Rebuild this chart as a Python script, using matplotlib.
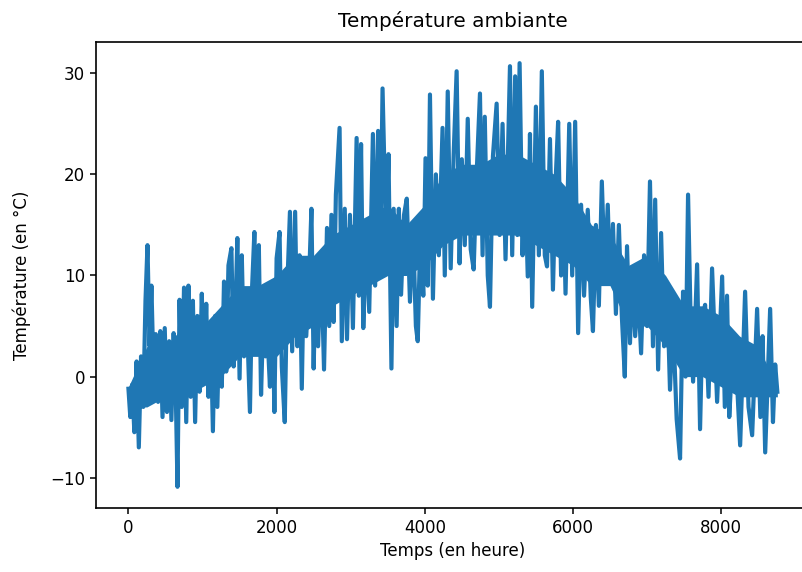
import matplotlib
matplotlib.use("Agg")
import matplotlib.pyplot as plt

# hour index and temperature (degC), peaks and troughs
hours = [0, 25, 50, 80, 110, 140, 170, 200, 230, 257, 285, 310, 340, 370, 400,
         430, 460, 490, 520, 550, 580, 610, 640, 662, 690, 720, 750, 780, 810,
         840, 870, 900, 930, 960, 990, 1020, 1050, 1080, 1110, 1140, 1170, 1200,
         1230, 1260, 1290, 1320, 1350, 1390, 1420, 1450, 1470, 1500, 1530, 1560,
         1590, 1640, 1670, 1700, 1730, 1760, 1790, 1820, 1850, 1880, 1910, 1940,
         1970, 2000, 2040, 2070, 2110, 2140, 2180, 2210, 2250, 2280, 2310, 2340,
         2370, 2400, 2440, 2470, 2500, 2530, 2560, 2600, 2640, 2680, 2710, 2740,
         2770, 2800, 2850, 2880, 2920, 2950, 2990, 3030, 3080, 3110, 3140, 3170,
         3210, 3250, 3300, 3330, 3370, 3400, 3430, 3480, 3510, 3550, 3580, 3620,
         3650, 3680, 3720, 3757, 3800, 3840, 3880, 3905, 3940, 3980, 4010, 4040,
         4070, 4110, 4150, 4190, 4240, 4270, 4310, 4350, 4390, 4430, 4470, 4500,
         4540, 4580, 4620, 4660, 4700, 4745, 4780, 4810, 4850, 4880, 4920, 4970,
         5010, 5050, 5090, 5150, 5180, 5220, 5250, 5280, 5320, 5350, 5390, 5420,
         5450, 5500, 5540, 5580, 5620, 5650, 5690, 5730, 5770, 5800, 5840, 5870,
         5900, 5950, 5990, 6030, 6070, 6110, 6150, 6200, 6240, 6270, 6310, 6350,
         6390, 6430, 6470, 6500, 6540, 6580, 6620, 6660, 6700, 6730, 6770, 6800,
         6840, 6880, 6920, 6960, 7000, 7040, 7080, 7110, 7150, 7190, 7230, 7270,
         7310, 7350, 7400, 7446, 7486, 7520, 7554, 7590, 7622, 7676, 7716, 7750,
         7784, 7830, 7878, 7946, 8014, 8050, 8080, 8110, 8149, 8189, 8257, 8324,
         8370, 8419, 8486, 8530, 8560, 8595, 8662, 8700, 8730, 8759]

temp = [-1.2, -4, -0.8, -5.5, 1.5, -7, 2, -3, 7.5, 13, 3, 9, 0, 4.2, -2.5,
        4.5, -4, 4.8, -3.5, 3.5, -4.3, 4.3, -2, -10.9, 7.6, -3, 8.8, -4.5, 9.0,
        -2, 7.5, -4.5, 6, -1.5, 8.2, 0, 7.2, -2, 5, -5.4, 6, -3,
        5.5, -1, 9.4, 0.5, 11, 12.7, 1, 8, 13.7, -0.2, 12, 2,
        8, -3.5, 9, 14.3, 3, 13, -1.8, 6, 2, 3.7, -1, 9,
        -3.5, 11.7, 14.3, 1, -4.5, 8, 16.3, 2.5, 16.3, 3, 12, -1.2,
        11.4, 4, 10, 16.6, 0.8, 11, 3, 12, 0.7, 14.7, 5, 16,
        5.4, 18, 24.6, 3.5, 16.6, 3.7, 16, 4.8, 23.6, 8, 23, 4.8,
        14, 6.4, 24, 9, 24.3, 12, 28.5, 12.7, 22, 0.8, 16.6, 5,
        16.6, 8.1, 16, 17.6, 7.4, 15, 5, 3.5, 14, 8, 21.6, 9,
        27.9, 7.7, 20, 12, 24.6, 10, 28.2, 10.7, 22, 30.2, 11.2, 21.5,
        13, 25.5, 12.6, 10.6, 20, 28, 12, 25.7, 10, 6.9, 21.8, 27,
        14, 25, 11.6, 30.7, 12, 29.7, 14, 31, 12, 20.8, 9.9, 24,
        6.9, 26.7, 12, 30.2, 12, 10.9, 23.5, 8.6, 20, 25.2, 10, 18,
        8.2, 25, 10, 25.2, 4.3, 17, 8, 16.5, 7.9, 4.5, 15, 7,
        19.3, 10, 17, 9.2, 15.1, 6.2, 15, 6, 0, 12.9, 3.3, 10.2,
        4, 8.6, 2.3, 12, 5, 19.3, 3, 17.5, 0.7, 14.2, 3, 9,
        -1.3, 5.7, -4.2, -8.1, 8.4, 0, 18, 5, -0.5, 11.1, -5.2, 6,
        7.1, -2, 10.7, -2.5, 9.9, -3, 8, -4, 1.5, 3.2, -6.8, 8.4,
        -3, -5.8, 6.7, -4, 4, -7.5, 6.7, -4.5, 1.2, -1.5]

# solid core of the band (where daily swings overlap), read every 250 h
core_hours = [0, 250, 500, 750, 1000, 1250, 1500, 1750, 2000, 2250, 2500,
              2750, 3000, 3250, 3500, 3750, 4000, 4250, 4500, 4750, 5000,
              5250, 5500, 5750, 6000, 6250, 6500, 6750, 7000, 7250, 7500,
              7750, 8000, 8250, 8500, 8759]
core_lo = [-3, -3, -2, -2, -1, 0, 2, 2, 2, 4, 5, 7, 8, 9, 10, 10, 11, 13, 14,
           14, 14, 14, 13, 12, 11, 9, 9, 5, 5, 3, 0, 0, -1, -2, -2, -2]
core_hi = [-1, 3, 3, 5, 5, 7, 9, 9, 10, 12, 12, 14, 15, 16, 17, 15, 17, 20,
           21, 21, 22, 22, 21, 20, 18, 15, 14, 11, 12, 10, 7, 7, 6, 4, 3, -1]

blue = '#1f77b4'
fig = plt.figure(figsize=(8.02, 5.72), dpi=100)
ax = fig.add_axes([0.1197, 0.1119, 0.890, 0.8147])
ax.fill_between(core_hours, core_lo, core_hi, color=blue, linewidth=0)
ax.plot(hours, temp, color=blue, linewidth=3.0)

ax.set_title("Température ambiante", fontsize=14.4, pad=11)
ax.set_xlabel("Temps (en heure)", fontsize=12)
ax.set_ylabel("Température (en °C)", fontsize=12, labelpad=14)
ax.set_xticks([0, 2000, 4000, 6000, 8000])
ax.set_yticks([-10, 0, 10, 20, 30])
ax.tick_params(labelsize=12, length=4.2, width=1.1)
for s in ax.spines.values():
    s.set_linewidth(1.2)

fig.savefig("out.png", dpi=100)
